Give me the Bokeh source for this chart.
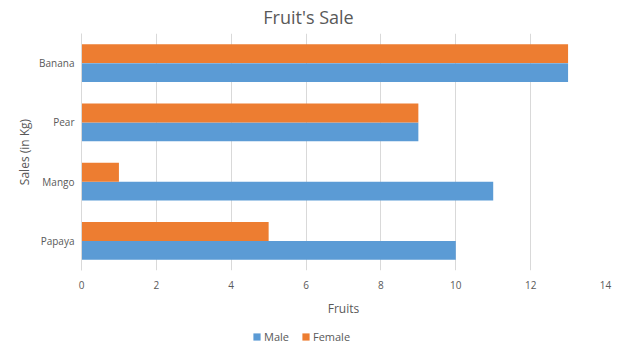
from bokeh.plotting import figure
from bokeh.layouts import column
from bokeh.models import FactorRange, Range1d, Legend, LegendItem, Label
from bokeh.transform import dodge
from bokeh.models import ColumnDataSource
from bokeh.embed import file_html
from bokeh.resources import INLINE

fruits = ["Papaya", "Mango", "Pear", "Banana"]
male = [10, 11, 9, 13]
female = [5, 1, 9, 13]
x_ticks = [0, 2, 4, 6, 8, 10, 12, 14]
series = ["Male", "Female"]
title_text = "Fruit's Sale"

BLUE = "#5B9BD5"
ORANGE = "#ED7D31"
TXT = "#595959"
FONT = "Open Sans"

src = ColumnDataSource(dict(fruit=fruits, male=male, female=female))

# title strip
tt = figure(width=617, height=33, x_range=Range1d(0, 1), y_range=Range1d(0, 1),
            x_axis_type=None, y_axis_type=None, output_backend="svg", toolbar_location=None,
            min_border_left=0, min_border_right=0, min_border_top=0, min_border_bottom=0)
tt.grid.grid_line_color = None
tt.outline_line_color = None
tt.add_layout(Label(x=227, y=17, x_units="screen", y_units="screen", text=title_text,
                    text_align="center", text_baseline="alphabetic", text_font=FONT,
                    text_font_size="18px", text_color=TXT))

p = figure(width=617, height=292, frame_width=524, frame_height=237, title=None,
           y_range=FactorRange(factors=fruits), x_range=Range1d(0, 14),
           output_backend="svg", toolbar_location=None,
           min_border_left=81, min_border_right=12, min_border_top=0, min_border_bottom=55)

r_m = p.hbar(y=dodge("fruit", -0.16, range=p.y_range), right="male", left=0, height=0.32,
             color=BLUE, line_color=None, source=src)
r_f = p.hbar(y=dodge("fruit", 0.16, range=p.y_range), right="female", left=0, height=0.32,
             color=ORANGE, line_color=None, source=src)

p.xaxis.ticker = x_ticks
p.xaxis.axis_label = "Fruits"
p.yaxis.axis_label = "Sales (in Kg)"
for ax in (p.xaxis[0], p.yaxis[0]):
    ax.major_tick_line_color = None
    ax.minor_tick_line_color = None
    ax.major_tick_out = 0
    ax.major_tick_in = 0
    ax.major_label_text_font = FONT
    ax.major_label_text_font_size = "10px"
    ax.major_label_text_color = TXT
    ax.axis_label_text_font = FONT
    ax.axis_label_text_font_size = "12px"
    ax.axis_label_text_font_style = "normal"
    ax.axis_label_text_color = TXT
p.xaxis.axis_line_color = None
p.yaxis.axis_line_color = "#D9D9D9"
p.xaxis.major_label_standoff = 10
p.xaxis.axis_label_standoff = 8
p.yaxis.major_label_standoff = 7
p.yaxis.axis_label_standoff = 3

p.xgrid.grid_line_color = "#D9D9D9"
p.ygrid.grid_line_color = None
p.outline_line_color = None

# legend strip below the chart (helper bars map outside its y range, so nothing is drawn)
lg = figure(width=617, height=30, x_range=Range1d(0, 14), y_range=FactorRange(factors=series),
            x_axis_type=None, y_axis_type=None, output_backend="svg", toolbar_location=None,
            min_border_left=0, min_border_right=0, min_border_top=0, min_border_bottom=0)
lg.grid.grid_line_color = None
lg.outline_line_color = None
lm = lg.hbar(y="fruit", right="male", left=0, height=0.5, color=BLUE, line_color=None, source=src)
lf = lg.hbar(y="fruit", right="female", left=0, height=0.5, color=ORANGE, line_color=None, source=src)
legend = Legend(items=[LegendItem(label=series[0], renderers=[lm]),
                       LegendItem(label=series[1], renderers=[lf])],
                orientation="horizontal", location=(171, 11))
legend.label_text_font = FONT
legend.label_text_font_size = "11px"
legend.label_text_color = TXT
legend.label_height = 12
legend.glyph_width = 9
legend.glyph_height = 9
legend.label_standoff = 3
legend.spacing = 12
legend.padding = 0
legend.margin = 0
legend.border_line_color = None
legend.background_fill_alpha = 0
lg.add_layout(legend, "center")

open("out.html", "w").write(file_html(column(tt, p, lg), INLINE))
